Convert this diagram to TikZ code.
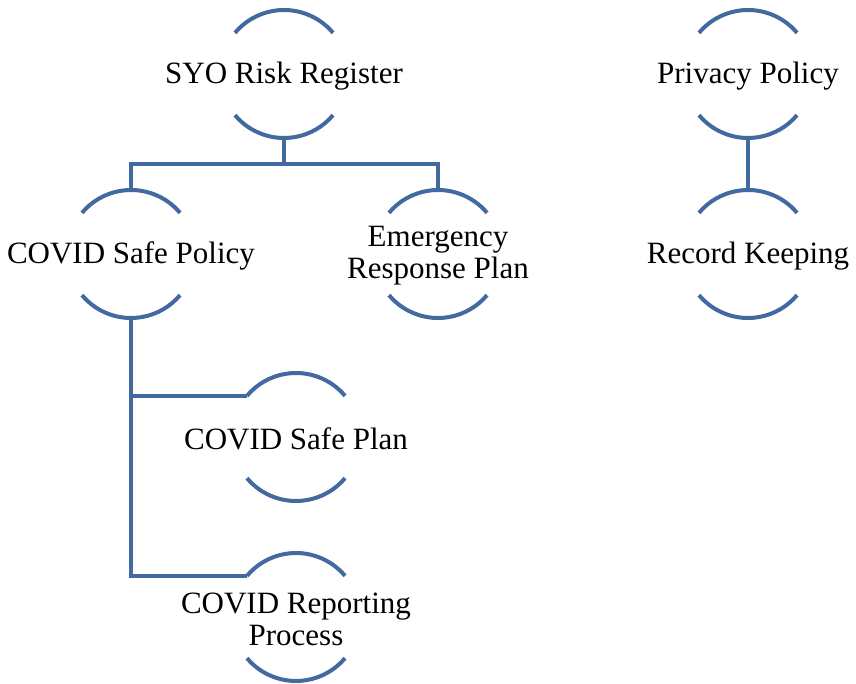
\documentclass[tikz,border=0pt]{standalone}
\usepackage{fontspec}
\setmainfont{Liberation Serif}
\usepackage{tikz}
\definecolor{arcblue}{RGB}{66,106,161}
\tikzset{
    arcline/.style={draw=arcblue, line width=4pt},
    link/.style={draw=arcblue, line width=4pt},
    label/.style={align=center, inner sep=0pt, yshift=-2pt, font=\fontsize{31}{32}\selectfont}
}
\newcommand\arcpair[1]{%
    \coordinate (#1-c) at ([yshift=2pt]#1.center);
    \draw[arcline] (#1-c) ++(40:64) arc[start angle=40, end angle=140, radius=64];
    \draw[arcline] (#1-c) ++(220:64) arc[start angle=220, end angle=320, radius=64];
    \coordinate (#1-top) at ([yshift=64pt]#1-c);
    \coordinate (#1-bot) at ([yshift=-64pt]#1-c);
    \coordinate (#1-tl) at ([shift={(140:64)}]#1-c);
}
\begin{document}
\begin{tikzpicture}[x=1pt, y=1pt]
    \useasboundingbox (0,0) rectangle (856,683);
    \node[label] (syo) at (284,609) {SYO Risk Register};
    \node[label] (csp) at (131,429) {COVID Safe Policy};
    \node[label] (erp) at (438,429) {Emergency\\Response Plan};
    \node[label] (cplan) at (296,246) {COVID Safe Plan};
    \node[label] (crep) at (296,66) {COVID Reporting\\Process};
    \node[label] (priv) at (748,609) {Privacy Policy};
    \node[label] (rec) at (748,429) {Record Keeping};
    \foreach \n in {syo,csp,erp,cplan,crep,priv,rec} {\arcpair{\n}}
    \draw[link] (syo-bot) -- ++(0,-26) -| (csp-top);
    \draw[link] (syo-bot) -- ++(0,-26) -| (erp-top);
    \draw[link] (csp-bot) |- (cplan-tl);
    \draw[link] (csp-bot) |- (crep-tl);
    \draw[link] (priv-bot) -- (rec-top);
\end{tikzpicture}
\end{document}
